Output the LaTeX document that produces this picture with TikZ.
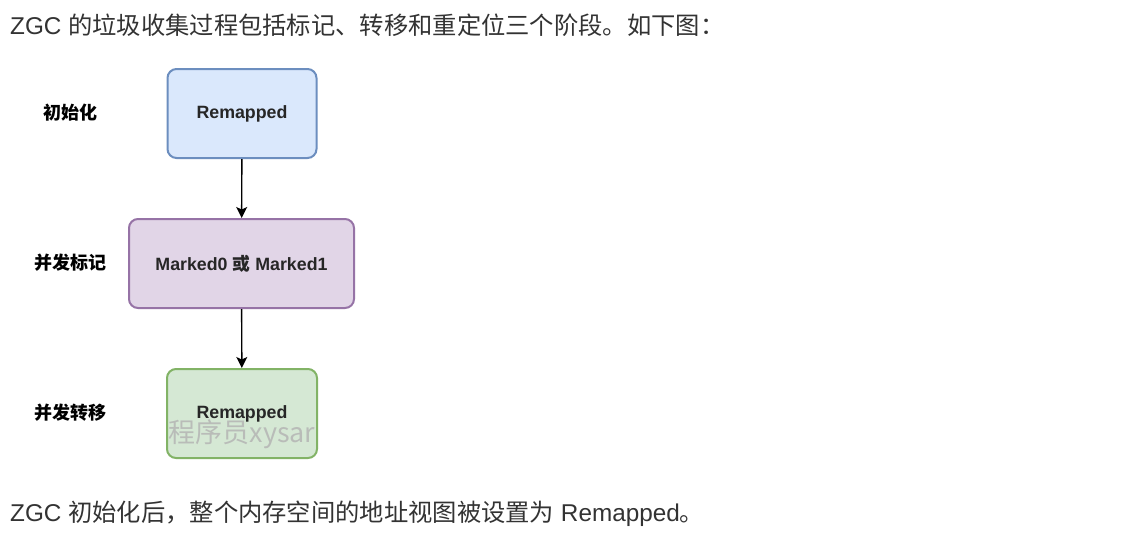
\documentclass[tikz,border=0pt]{standalone}
\usepackage{fontspec}
\setmainfont{Liberation Sans}
\newfontfamily\cjk{Noto Sans CJK SC}
\usetikzlibrary{arrows.meta}
\definecolor{bodytext}{HTML}{333333}
\definecolor{blueFill}{HTML}{DAE8FC}
\definecolor{blueLine}{HTML}{6C8EBF}
\definecolor{purpleFill}{HTML}{E1D5E7}
\definecolor{purpleLine}{HTML}{9673A6}
\definecolor{greenFill}{HTML}{D5E8D4}
\definecolor{greenLine}{HTML}{82B366}
\tikzset{
    phasebox/.style={rectangle,rounded corners=9pt,line width=2pt,minimum height=89pt,
        inner sep=0pt,font=\fontsize{17.8}{20}\selectfont\bfseries,text=black!85},
    phaselabel/.style={font=\fontsize{18}{20}\selectfont\cjk\bfseries,text=black},
    bodyline/.style={anchor=base west,inner sep=0pt,text=bodytext,font=\fontsize{24.3}{26}\selectfont},
    flow/.style={-{Stealth[length=11pt,width=11pt,inset=2.5pt]},line width=1.4pt}
}
\begin{document}
\begin{tikzpicture}[x=1pt,y=-1pt]
        \useasboundingbox[fill=white] (0,0) rectangle (1142,536);

        \node[bodyline] (intro) at (10,34) {ZGC {\cjk 的垃圾收集过程包括标记、转移和重定位三个阶段。如下图：}};

        \node[phasebox,draw=blueLine,fill=blueFill,minimum width=149pt] (init) at (242,113.5) {Remapped};
        \node[phasebox,draw=purpleLine,fill=purpleFill,minimum width=225pt] (mark) at (241.5,263.5) {Marked0 {\cjk 或} Marked1};
        \node[phasebox,draw=greenLine,fill=greenFill,minimum width=150pt] (relocate) at (242,413.5) {Remapped};

        \node[phaselabel] (initlabel) at (70,113) {初始化};
        \node[phaselabel] (marklabel) at (70,263) {并发标记};
        \node[phaselabel] (relocatelabel) at (70,413) {并发转移};

        \draw[flow] (init) -- (mark);
        \draw[flow] (mark) -- (relocate);

        \node[text=gray!60,opacity=0.8,font=\fontsize{27}{30}\selectfont\cjk] (mark2) at (242,434) {程序员xysar};

        \node[bodyline] (outro) at (10,521) {ZGC {\cjk 初始化后，整个内存空间的地址视图被设置为} Remapped{\cjk 。}};
    \end{tikzpicture}
\end{document}
